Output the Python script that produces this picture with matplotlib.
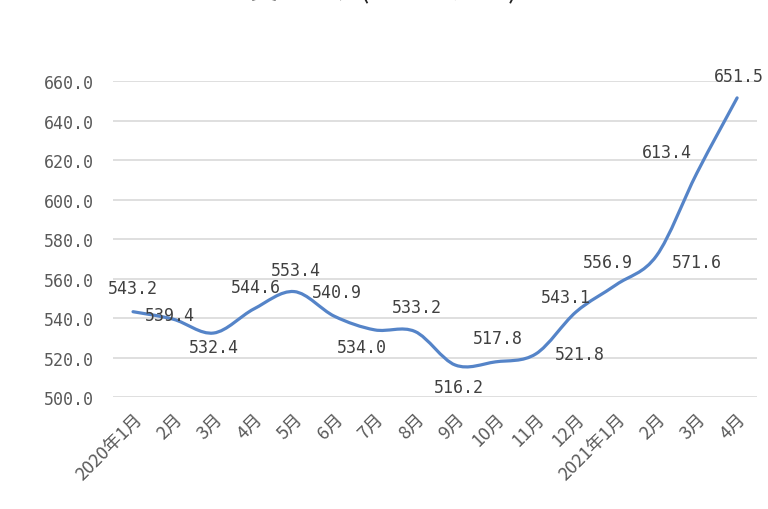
import numpy as np
import matplotlib
matplotlib.use("Agg")
import matplotlib.pyplot as plt
from matplotlib.path import Path
from matplotlib.patches import PathPatch

plt.rcParams['font.family'] = ['Noto Sans CJK SC', 'DejaVu Sans']

months = ['2020年1月', '2月', '3月', '4月', '5月', '6月', '7月', '8月', '9月',
          '10月', '11月', '12月', '2021年1月', '2月', '3月', '4月']
values = [543.2, 539.4, 532.4, 544.6, 553.4, 540.9, 534.0, 533.2, 516.2,
          517.8, 521.8, 543.1, 556.9, 571.6, 613.4, 651.5]
# label offsets in pixels (dx, dy)
label_off = [(0, 24), (-3, 4), (0, -14), (2, 22), (2, 22), (2, 24), (-13, -17), (2, 24),
             (4, -22), (2, 24), (44, 0), (-10, 15), (-8, 23), (40, -6), (-30, 21), (2, 22)]

num_font = ['DejaVu Sans Mono']

fig = plt.figure(figsize=(7.68, 5.1), dpi=100)
ax = fig.add_axes([0.147, 0.2196, 0.839, 0.6194])

grey = '#595959'
line_col = '#5584c8'

# smooth line (bezier through the points, like the spreadsheet "smoothed line")
pts = np.column_stack([np.arange(len(values)), values])
verts = [tuple(pts[0])]
codes = [Path.MOVETO]
n = len(pts)
for i in range(n - 1):
    p0 = pts[max(i - 1, 0)]
    p1 = pts[i]
    p2 = pts[i + 1]
    p3 = pts[min(i + 2, n - 1)]
    c1 = p1 + (p2 - p0) / 6
    c2 = p2 - (p3 - p1) / 6
    verts += [tuple(c1), tuple(c2), tuple(p2)]
    codes += [Path.CURVE4, Path.CURVE4, Path.CURVE4]
patch = PathPatch(Path(verts, codes), facecolor='none', edgecolor=line_col, lw=2.3,
                  capstyle='round', joinstyle='round', zorder=3)
ax.add_patch(patch)

for i, v in enumerate(values):
    dx, dy = label_off[i]
    ax.annotate(f'{v:.1f}', (i, v), xytext=(dx, dy), textcoords='offset pixels',
                ha='center', va='center', fontsize=12, color='#404040', zorder=4,
                family=num_font)

ax.set_xlim(-0.5, len(values) - 0.5)
ax.set_ylim(500, 660)
ax.set_yticks(np.arange(500, 661, 20))
ax.set_yticklabels([f'{t:.1f}' for t in np.arange(500, 661, 20)], fontsize=12, color=grey,
                   family=num_font)
ax.set_xticks(np.arange(len(months)))
ax.set_xticklabels(months, rotation=45, ha='right', rotation_mode='anchor',
                   fontsize=13, color=grey)
ax.tick_params(axis='y', length=0, pad=14)
ax.tick_params(axis='x', length=0, pad=9)
ax.grid(axis='y', color='#d9d9d9', lw=1.2)
ax.set_axisbelow(True)
for s in ax.spines.values():
    s.set_visible(False)

fig.text(0.5, 1.018, '变化情况(单位：万吨)', ha='center', va='center', fontsize=20, color='#222222')

fig.savefig('out.png', dpi=100)
